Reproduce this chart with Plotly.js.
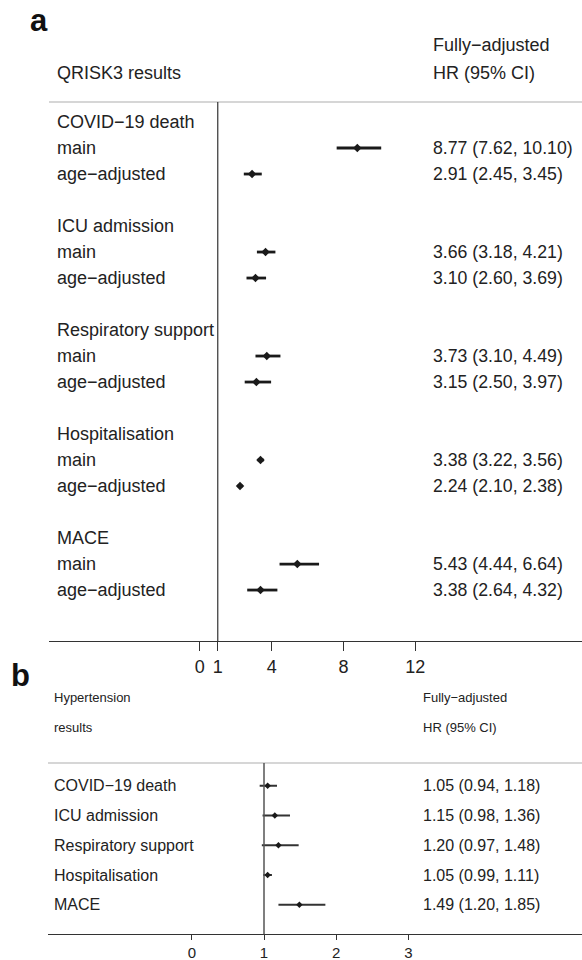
<!DOCTYPE html>
<html><head><meta charset="utf-8">
<script src="https://cdn.plot.ly/plotly-3.0.1.min.js"></script>
<style>html,body{margin:0;padding:0;background:#fff}#chart{width:582px;height:960px}</style>
</head><body><div id="chart"></div>
<script>
// ---- data ----
const outcomes = ["COVID−19 death", "ICU admission", "Respiratory support", "Hospitalisation", "MACE"];
const subLabels = ["main", "age−adjusted"];
const qriskMainHR = [8.77, 3.66, 3.73, 3.38, 5.43];
const qriskMainLo = [7.62, 3.18, 3.10, 3.22, 4.44];
const qriskMainHi = [10.10, 4.21, 4.49, 3.56, 6.64];
const qriskAgeHR = [2.91, 3.10, 3.15, 2.24, 3.38];
const qriskAgeLo = [2.45, 2.60, 2.50, 2.10, 2.64];
const qriskAgeHi = [3.45, 3.69, 3.97, 2.38, 4.32];
const htnHR = [1.05, 1.15, 1.20, 1.05, 1.49];
const htnLo = [0.94, 0.98, 0.97, 0.99, 1.20];
const htnHi = [1.18, 1.36, 1.48, 1.11, 1.85];
const ticksA = [0, 1, 4, 8, 12];
const ticksB = [0, 1, 2, 3];
const headerA = ["QRISK3 results", "Fully−adjusted", "HR (95% CI)"];
const headerB = ["Hypertension", "results", "Fully−adjusted", "HR (95% CI)"];
const refLine = 1;

// ---- layout helpers ----
const W = 582, H = 960;
const px = v => v / W;
const py = v => 1 - v / H;
const FONT = "Liberation Sans, Arial, Helvetica, sans-serif";
const TXT = "#222";
const fmt = (h, l, u) => h.toFixed(2) + " (" + l.toFixed(2) + ", " + u.toFixed(2) + ")";

// panel a rows: header 4g, main 4g+1, age 4g+2
const aX = [], aY = [], aPlus = [], aMinus = [];
const annotations = [];
outcomes.forEach((o, g) => {
  const rows = [[qriskMainHR[g], qriskMainLo[g], qriskMainHi[g]], [qriskAgeHR[g], qriskAgeLo[g], qriskAgeHi[g]]];
  annotations.push({xref: "paper", yref: "y", x: px(55), y: 4 * g, text: o, xanchor: "left", yanchor: "middle", showarrow: false, font: {size: 18, color: TXT, family: FONT}});
  rows.forEach((r, k) => {
    const yi = 4 * g + 1 + k;
    aX.push(r[0]); aY.push(yi); aPlus.push(r[2] - r[0]); aMinus.push(r[0] - r[1]);
    annotations.push({xref: "paper", yref: "y", x: px(55), y: yi, text: subLabels[k], xanchor: "left", yanchor: "middle", showarrow: false, font: {size: 18, color: TXT, family: FONT}});
    annotations.push({xref: "paper", yref: "y", x: px(431), y: yi, text: fmt(r[0], r[1], r[2]), xanchor: "left", yanchor: "middle", showarrow: false, font: {size: 17.7, color: TXT, family: FONT}});
  });
});
// panel b rows
const bY = [], bPlus = [], bMinus = [];
outcomes.forEach((o, i) => {
  bY.push(i); bPlus.push(htnHi[i] - htnHR[i]); bMinus.push(htnHR[i] - htnLo[i]);
  annotations.push({xref: "paper", yref: "y2", x: px(52), y: i, text: o, xanchor: "left", yanchor: "middle", showarrow: false, font: {size: 16, color: TXT, family: FONT}});
  annotations.push({xref: "paper", yref: "y2", x: px(421), y: i, text: fmt(htnHR[i], htnLo[i], htnHi[i]), xanchor: "left", yanchor: "middle", showarrow: false, font: {size: 16, color: TXT, family: FONT}});
});
// headers
const hdr = (t, x, y, s) => ({xref: "paper", yref: "paper", x: px(x), y: py(y), text: t, xanchor: "left", yanchor: "middle", showarrow: false, font: {size: s, color: TXT, family: FONT}});
annotations.push(hdr(headerA[0], 55, 72.5, 18), hdr(headerA[1], 431, 45, 18), hdr(headerA[2], 431, 72.5, 18));
annotations.push(hdr(headerB[0], 52, 697.5, 13), hdr(headerB[1], 52, 727, 13), hdr(headerB[2], 421, 697.5, 13), hdr(headerB[3], 421, 727, 13));
annotations.push({xref: "paper", yref: "paper", x: px(39), y: py(20), text: "<b>a</b>", xanchor: "center", yanchor: "middle", showarrow: false, font: {size: 31, color: "#111", family: FONT}});
annotations.push({xref: "paper", yref: "paper", x: px(20), y: py(675), text: "<b>b</b>", xanchor: "center", yanchor: "middle", showarrow: false, font: {size: 31, color: "#111", family: FONT}});

const traces = [
  {type: "scatter", mode: "markers", x: aX, y: aY, xaxis: "x", yaxis: "y",
   marker: {symbol: "diamond", size: 6.5, color: "#1a1a1a"},
   error_x: {type: "data", symmetric: false, array: aPlus, arrayminus: aMinus, color: "#1a1a1a", thickness: 2.8, width: 0},
   hoverinfo: "skip", showlegend: false},
  {type: "scatter", mode: "markers", x: htnHR, y: bY, xaxis: "x2", yaxis: "y2",
   marker: {symbol: "diamond", size: 5, color: "#1a1a1a"},
   error_x: {type: "data", symmetric: false, array: bPlus, arrayminus: bMinus, color: "#333", thickness: 2, width: 0},
   hoverinfo: "skip", showlegend: false}
];

const layout = {
  width: W, height: H, margin: {l: 0, r: 0, t: 0, b: 0},
  paper_bgcolor: "#fff", plot_bgcolor: "#fff", showlegend: false,
  font: {family: FONT, color: TXT},
  xaxis: {domain: [px(49), 1], range: [(49 - 199.8) / 17.96, (582 - 199.8) / 17.96], anchor: "y",
          showgrid: false, zeroline: false, showline: true, linecolor: "#333", linewidth: 1,
          ticks: "outside", ticklen: 9, tickcolor: "#333", tickvals: ticksA, ticktext: ticksA.map(String),
          tickfont: {size: 18, color: TXT, family: FONT}, fixedrange: true},
  yaxis: {domain: [py(641), py(102)], range: [19.96, -0.77], visible: false, fixedrange: true},
  xaxis2: {domain: [px(48), 1], range: [(48 - 191.8) / 72.2, (582 - 191.8) / 72.2], anchor: "y2",
          showgrid: false, zeroline: false, showline: true, linecolor: "#333", linewidth: 1,
          ticks: "outside", ticklen: 5, tickcolor: "#333", tickvals: ticksB, ticktext: ticksB.map(String),
          tickfont: {size: 15, color: TXT, family: FONT}, fixedrange: true},
  yaxis2: {domain: [py(934.3), py(763)], range: [4.99, -0.76], visible: false, fixedrange: true},
  shapes: [
    {type: "line", xref: "paper", x0: px(49), x1: 1, yref: "y domain", y0: 1, y1: 1, line: {color: "#c8c8c8", width: 1.5}},
    {type: "line", xref: "x", x0: refLine, x1: refLine, yref: "y domain", y0: 0, y1: 1, line: {color: "#333", width: 1.2}},
    {type: "line", xref: "paper", x0: px(48), x1: 1, yref: "y2 domain", y0: 1, y1: 1, line: {color: "#c8c8c8", width: 1.5}},
    {type: "line", xref: "x2", x0: refLine, x1: refLine, yref: "y2 domain", y0: 0, y1: 1, line: {color: "#555", width: 1.5}}
  ],
  annotations: annotations
};
Plotly.newPlot("chart", traces, layout, {displayModeBar: false, staticPlot: true});
</script>
</body></html>
